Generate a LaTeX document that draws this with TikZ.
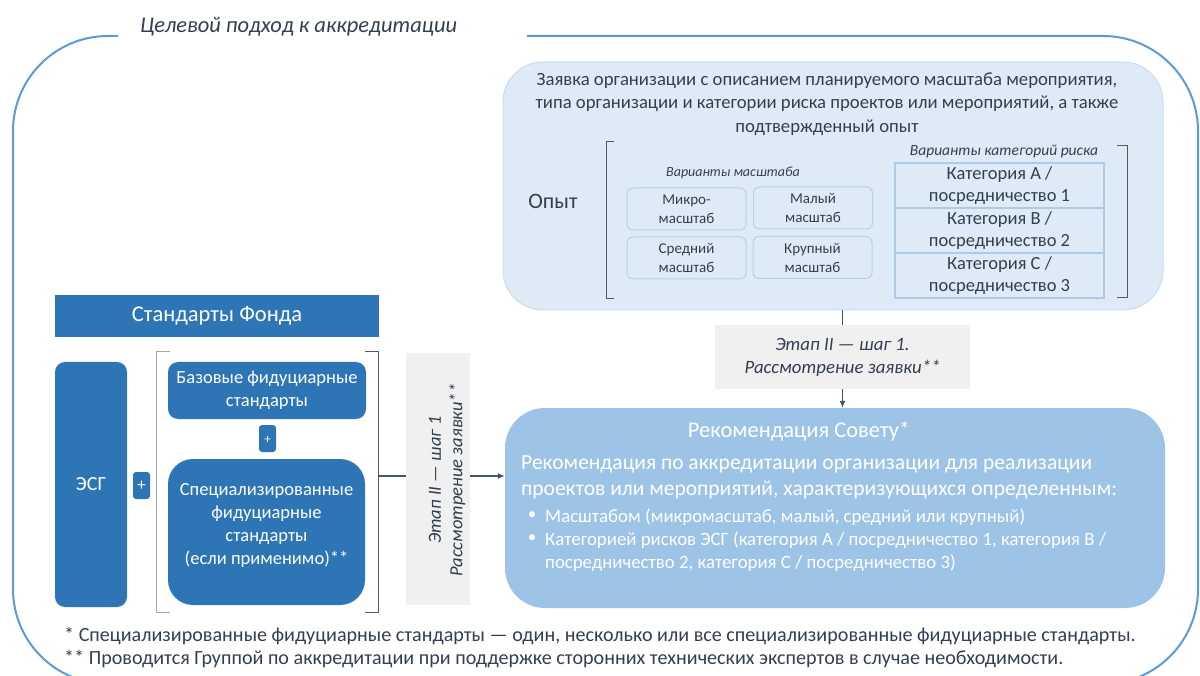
\documentclass[tikz,border=0pt]{standalone}
\usepackage{fontspec}
\setmainfont{Carlito}
\usetikzlibrary{arrows.meta}
\definecolor{frameblue}{HTML}{5B9BD5}
\definecolor{darkblue}{HTML}{2E75B6}
\definecolor{recblue}{HTML}{9DC3E6}
\definecolor{appfill}{HTML}{DEEBF7}
\definecolor{appline}{HTML}{C9DCF0}
\definecolor{sline}{HTML}{B9D0EA}
\definecolor{tline}{HTML}{AFC9E8}
\definecolor{grayfill}{HTML}{F0F0F0}
\definecolor{txt}{HTML}{333F50}
\definecolor{brk}{HTML}{595959}
\definecolor{brklight}{HTML}{A6A6A6}
\definecolor{arr}{HTML}{44546A}
\newcommand{\fsz}[2]{\fontsize{#1}{#2}\selectfont}
\tikzset{
  darkbox/.style={fill=darkblue, draw=none, text=white, align=center, inner sep=0pt},
  sbox/.style={draw=sline, line width=1, fill=appfill, rounded corners=6, minimum width=119, minimum height=42, align=center, inner sep=0pt, text=txt, font=\fsz{15}{19}},
  cellbox/.style={draw=tline, line width=1.5, minimum width=209, minimum height=45, align=center, inner sep=0pt, text=txt, font=\fsz{18.5}{22.5}},
  graybox/.style={fill=grayfill, draw=none, inner sep=0pt},
  lab/.style={inner sep=0pt, text=txt},
  wlab/.style={inner sep=0pt, text=white},
  conn/.style={draw=arr, line width=1.2},
  brack/.style={line width=1},
}
\begin{document}
\begin{tikzpicture}[x=1pt,y=-1pt]
\useasboundingbox (0,0) rectangle (1200,676);
% outer frame
\draw[frameblue, line width=2, rounded corners=95] (527,36) -- (1198,36) -- (1198,684) -- (13,684) -- (13,36) -- (118,36);
\node[lab, anchor=west, font=\itshape\fsz{22.5}{26}] (title) at (140,27) {Целевой подход к аккредитации};

% application box
\node[draw=appline, line width=1, fill=appfill, rounded corners=40, minimum width=660, minimum height=248, inner sep=0pt] (app) at (833,186) {};
\node[lab, align=center, font=\fsz{18.7}{23.5}] (apptext) at (827,104) {Заявка организации с описанием планируемого масштаба мероприятия,\\типа организации и категории риска проектов или мероприятий, а также\\подтвержденный опыт};
\node[lab, font=\fsz{22}{26}] (opyt) at (553,201) {Опыт};
\draw[brk, brack] (614,142) -- (606,142) -- (606,299) -- (614,299);
\draw[brk, brack] (1117,146) -- (1127,146) -- (1127,298) -- (1117,298);
\node[lab, font=\itshape\fsz{14}{17}] (varm) at (733,173) {Варианты масштаба};
\node[sbox] (m1) at (686.5,209) {Микро-\\масштаб};
\node[sbox] (m2) at (813,208) {Малый\\масштаб};
\node[sbox] (m3) at (686.5,258) {Средний\\масштаб};
\node[sbox] (m4) at (812.5,257.5) {Крупный\\масштаб};
\node[lab, font=\itshape\fsz{15.5}{18}] (vark) at (1004,152) {Варианты категорий риска};
\node[cellbox] (c1) at (999.5,185.5) {Категория A /\\посредничество 1};
\node[cellbox] (c2) at (999.5,230.5) {Категория B /\\посредничество 2};
\node[cellbox] (c3) at (999.5,275.5) {Категория C /\\посредничество 3};

% step 2 box
\node[graybox, minimum width=255, minimum height=64] (s2) at (842.5,357) {};
\node[lab, align=center, font=\itshape\fsz{18.8}{23}] (s2t) at (s2) {Этап II — шаг 1.\\Рассмотрение заявки**};

% recommendation box
\node[fill=recblue, draw=none, rounded corners=40, minimum width=660, minimum height=200, inner sep=0pt] (rec) at (835,508) {};
\node[wlab, font=\fsz{22.5}{26}] (rect) at (799,431) {Рекомендация Совету*};
\node[wlab, anchor=west, align=left, font=\fsz{21.5}{26}] (recb) at (521,477) {Рекомендация по аккредитации организации для реализации\\проектов или мероприятий, характеризующихся определенным:};
\node[wlab, font=\fsz{17}{20}] (b1) at (532,516) {•};
\node[wlab, font=\fsz{17}{20}] (b2) at (532,539) {•};
\node[wlab, anchor=west, font=\fsz{18.8}{22}] (l1) at (545,517) {Масштабом (микромасштаб, малый, средний или крупный)};
\node[wlab, anchor=west, font=\fsz{18.8}{22}] (l2) at (545,540) {Категорией рисков ЭСГ (категория A / посредничество 1, категория B /};
\node[wlab, anchor=west, font=\fsz{18.8}{22}] (l3) at (545,563) {посредничество 2, категория C / посредничество 3)};

% arrows right side
\draw[conn] (app.south -| s2) -- (s2.north);
\draw[conn, -{Latex[length=7,width=6]}] (s2.south) -- (rec.north -| s2);

% left part
\node[darkbox, minimum width=324, minimum height=42, font=\fsz{22.5}{26}] (sf) at (217,316) {Стандарты Фонда};
\node[darkbox, rounded corners=10, minimum width=72, minimum height=245, font=\fsz{20}{24}] (esg) at (91,484.5) {ЭСГ};
\node[darkbox, rounded corners=3, minimum width=17, minimum height=27, font=\fsz{17}{20}] (p1) at (141.5,485.5) {+};
\draw[brklight, brack] (170,352) -- (156,352) -- (156,612) -- (170,612);
\draw[brk, brack] (365,352) -- (378,352) -- (378,612) -- (365,612);
\node[darkbox, rounded corners=10, minimum width=198, minimum height=57, font=\fsz{18.5}{23}] (base) at (267,390.5) {Базовые фидуциарные\\стандарты};
\node[darkbox, rounded corners=3, minimum width=17, minimum height=27, font=\fsz{13}{16}] (p2) at (267.5,438.5) {\raisebox{-10pt}{+}};
\node[darkbox, rounded corners=25, minimum width=197, minimum height=146] (spec) at (266.5,532) {};
\node[wlab, align=center, font=\fsz{18.5}{23}] (spect) at (266.5,525) {Специализированные\\фидуциарные\\стандарты\\(если применимо)**};

\coordinate (brR) at (378,476);
\node[graybox, minimum width=64, minimum height=252] (v1) at (438,479) {};
\node[lab, rotate=90, align=center, font=\itshape\fsz{18.5}{21.5}] (v1t) at (447,480) {Этап II — шаг 1\\Рассмотрение заявки**};
\draw[conn] (brR) -- (v1.west |- brR);
\draw[conn, -{Latex[length=7,width=6]}] (v1.east |- brR) -- (rec.west |- brR);

% footnotes
\node[lab, anchor=west, font=\fsz{20.1}{23}] (fn1) at (64,636) {* Специализированные фидуциарные стандарты — один, несколько или все специализированные фидуциарные стандарты.};
\node[lab, anchor=west, font=\fsz{20.1}{23}] (fn2) at (64,659) {** Проводится Группой по аккредитации при поддержке сторонних технических экспертов в случае необходимости.};
\end{tikzpicture}
\end{document}
